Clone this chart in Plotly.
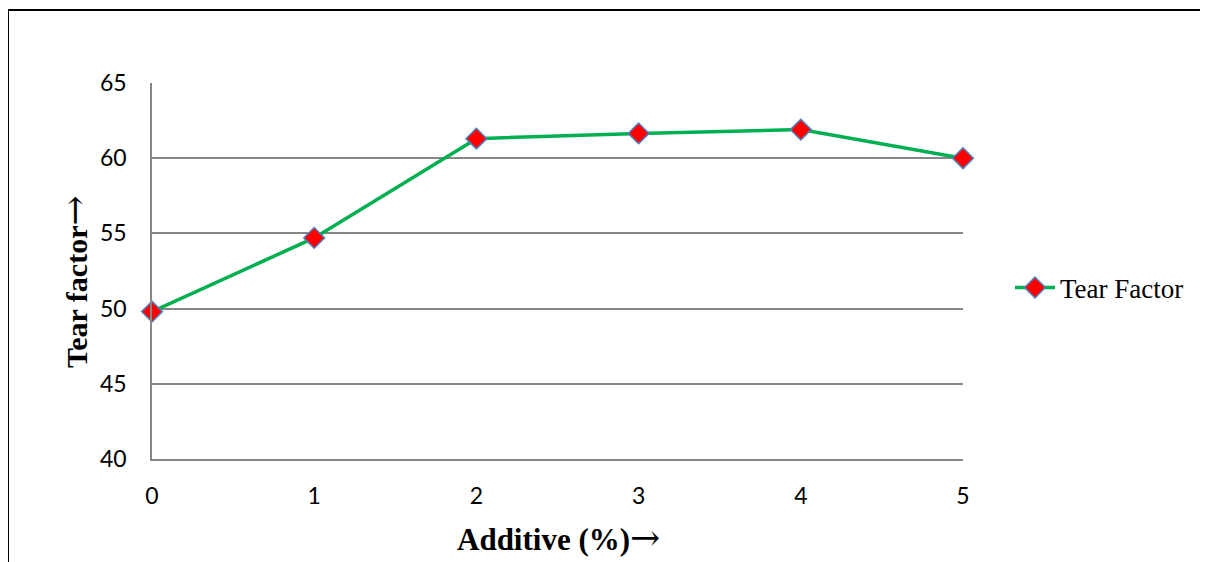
import plotly.graph_objects as go

additive = [0, 1, 2, 3, 4, 5]
tear_factor = [49.8, 54.7, 61.3, 61.65, 61.9, 60.0]
y_ticks = [40, 45, 50, 55, 60, 65]
series_name = "Tear Factor"

OFF = 8  # page body margin offset
W, H = 1200, 554
L, R, T, B = 152 - OFF, 963 - OFF, 83 - OFF, 459 - OFF

fig = go.Figure()
fig.add_trace(go.Scatter(
    x=additive, y=tear_factor, mode="lines+markers", name=series_name,
    line=dict(color="#00B050", width=3.5),
    marker=dict(symbol="diamond", size=16, color="#FF0000",
                line=dict(color="#4F81BD", width=1.5)),
    cliponaxis=False,
))

def px_x(px):
    return (px - OFF - L) / (R - L)

def px_y(py):
    return (B - (py - OFF)) / (B - T)

fig.update_layout(
    width=W, height=H,
    margin=dict(l=L, r=W - R, t=T, b=H - B, pad=0),
    paper_bgcolor="white", plot_bgcolor="white",
    showlegend=True,
    legend=dict(x=px_x(1010), y=px_y(288), xanchor="left", yanchor="middle",
                font=dict(family="Liberation Serif", size=27, color="black"),
                bgcolor="rgba(0,0,0,0)", itemwidth=40),
    xaxis=dict(range=[0, 5], tickvals=additive, ticktext=[str(v) for v in additive],
               showgrid=False, zeroline=False, showline=True, linecolor="#868686", linewidth=1.5,
               ticks="outside", ticklen=0, ticklabelstandoff=16,
               tickfont=dict(family="Lato", size=23, color="black")),
    yaxis=dict(range=[40, 65], tickvals=y_ticks,
               showgrid=True, gridcolor="#868686", gridwidth=1.5, zeroline=False,
               showline=True, linecolor="#868686", linewidth=1.5,
               ticks="outside", ticklen=0, ticklabelstandoff=19,
               tickfont=dict(family="Lato", size=23, color="black")),
    font=dict(family="Lato", color="black"),
)

arrow = "<span style=\"font-family:'DejaVu Serif';font-weight:normal;font-size:36px\">→</span>"
fig.add_annotation(text="<b>Additive (%)</b>" + arrow, xref="paper", yref="paper",
                   x=px_x(558), y=px_y(537), xanchor="center", yanchor="middle",
                   showarrow=False, font=dict(family="Liberation Serif", size=31, color="black"))
fig.add_annotation(text="<b>Tear factor</b>" + arrow, xref="paper", yref="paper",
                   x=px_x(74), y=px_y(282), xanchor="center", yanchor="middle", textangle=-90,
                   showarrow=False, font=dict(family="Liberation Serif", size=30, color="black"))

# outer frame lines
fig.add_shape(type="line", xref="paper", yref="paper",
              x0=px_x(8), y0=px_y(10), x1=px_x(8), y1=px_y(570),
              line=dict(color="black", width=2))
fig.add_shape(type="line", xref="paper", yref="paper",
              x0=px_x(8), y0=px_y(10), x1=px_x(1215), y1=px_y(10),
              line=dict(color="black", width=2))

fig.write_html("out.html")
